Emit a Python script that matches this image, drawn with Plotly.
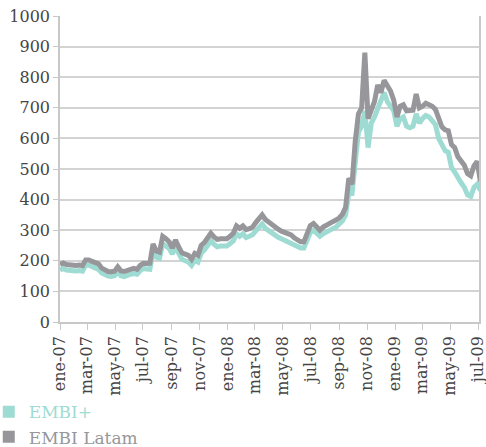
import pandas as pd
import plotly.graph_objects as go

# Weekly series (bps)
embi_latam = [188, 193, 188, 186, 187, 185, 186, 184, 203, 203, 198, 196, 190, 176, 168, 165, 164, 166, 180, 167,
              165, 170, 172, 175, 172, 185, 192, 191, 192, 255, 232, 228, 280, 272, 262, 242, 268, 245, 226, 222,
              218, 205, 224, 218, 250, 260, 278, 290, 278, 270, 272, 270, 272, 280, 290, 314, 306, 314, 302, 305,
              310, 325, 336, 350, 335, 326, 317, 310, 303, 297, 292, 290, 285, 275, 266, 262, 262, 290, 315, 322,
              312, 300, 310, 317, 324, 328, 333, 340, 352, 375, 470, 450, 590, 680, 700, 880, 665, 690, 720, 775,
              750, 790, 770, 755, 725, 670, 705, 710, 690, 690, 692, 745, 700, 705, 715, 710, 705, 695, 660, 638,
              628, 625, 580, 570, 540, 528, 512, 485, 478, 510, 525, 460]
embi_plus = [170, 175, 170, 168, 169, 167, 168, 166, 185, 186, 181, 178, 172, 160, 153, 150, 149, 151, 163, 151,
             148, 153, 156, 158, 156, 168, 175, 173, 172, 230, 212, 208, 255, 248, 240, 222, 245, 224, 205, 200,
             196, 185, 202, 196, 225, 236, 252, 265, 254, 246, 248, 246, 248, 256, 265, 288, 280, 288, 276, 280,
             285, 298, 308, 320, 306, 298, 290, 284, 277, 272, 267, 264, 260, 252, 246, 242, 242, 268, 292, 300,
             290, 280, 288, 295, 300, 305, 310, 318, 330, 350, 420, 420, 540, 620, 640, 690, 570, 650, 670, 700,
             720, 750, 720, 705, 690, 640, 665, 670, 640, 635, 640, 680, 650, 665, 675, 670, 660, 645, 600, 575,
             560, 555, 505, 490, 470, 455, 440, 415, 410, 440, 450, 430]
dates = pd.date_range("2007-01-01", periods=len(embi_latam), freq="7D")

tick_dates = pd.date_range("2007-01-01", "2009-07-01", freq="2MS")
tick_labels = ["ene-07", "mar-07", "may-07", "jul-07", "sep-07", "nov-07", "ene-08", "mar-08",
               "may-08", "jul-08", "sep-08", "nov-08", "ene-09", "mar-09", "may-09", "jul-09"]

TEAL = "#9edbd2"
GRAY = "#97979b"
FONT = "DejaVu Serif"
TXT = "#454545"

fig = go.Figure()
fig.add_trace(go.Scatter(x=dates, y=embi_plus, mode="lines", line=dict(color=TEAL, width=5),
                         showlegend=False, name="EMBI+"))
fig.add_trace(go.Scatter(x=dates, y=embi_latam, mode="lines", line=dict(color=GRAY, width=5),
                         showlegend=False, name="EMBI Latam"))
# legend entries (square swatches)
fig.add_trace(go.Scatter(x=[None], y=[None], mode="markers",
                         marker=dict(symbol="square", size=12, color=TEAL),
                         name=f"<span style='color:{TEAL}'>EMBI+</span>"))
fig.add_trace(go.Scatter(x=[None], y=[None], mode="markers",
                         marker=dict(symbol="square", size=12, color=GRAY),
                         name=f"<span style='color:{GRAY}'>EMBI Latam</span>"))

fig.update_layout(
    width=486, height=447,
    margin=dict(l=60, r=7, t=16, b=125, autoexpand=False),
    plot_bgcolor="white", paper_bgcolor="white",
    font=dict(family=FONT, size=16, color=TXT),
    legend=dict(x=-0.17, y=-0.236, xanchor="left", yanchor="top",
                font=dict(family=FONT, size=17), tracegroupgap=0, itemwidth=30,
                bgcolor="rgba(0,0,0,0)"),
)
fig.update_yaxes(range=[0, 1000], dtick=100, tick0=0, showgrid=True, gridcolor="#d3d3d3", gridwidth=1.5,
                 showline=True, linecolor="#c8c8c8", linewidth=1.5, mirror=True,
                 ticks="outside", ticklen=5, tickcolor="#c8c8c8", zeroline=False,
                 tickfont=dict(family=FONT, size=16, color=TXT))
fig.update_xaxes(range=[pd.Timestamp("2007-01-01"), pd.Timestamp("2009-07-03")],
                 tickvals=tick_dates, ticktext=tick_labels, tickangle=-90,
                 ticklabeloverflow="allow",
                 showgrid=False, showline=True, linecolor="#c8c8c8", linewidth=1.5,
                 ticks="outside", ticklen=6, tickcolor="#c8c8c8",
                 tickfont=dict(family=FONT, size=16, color=TXT))

fig.write_html("out.html", config={"displayModeBar": False},
               post_script="document.body.style.margin='0';")
